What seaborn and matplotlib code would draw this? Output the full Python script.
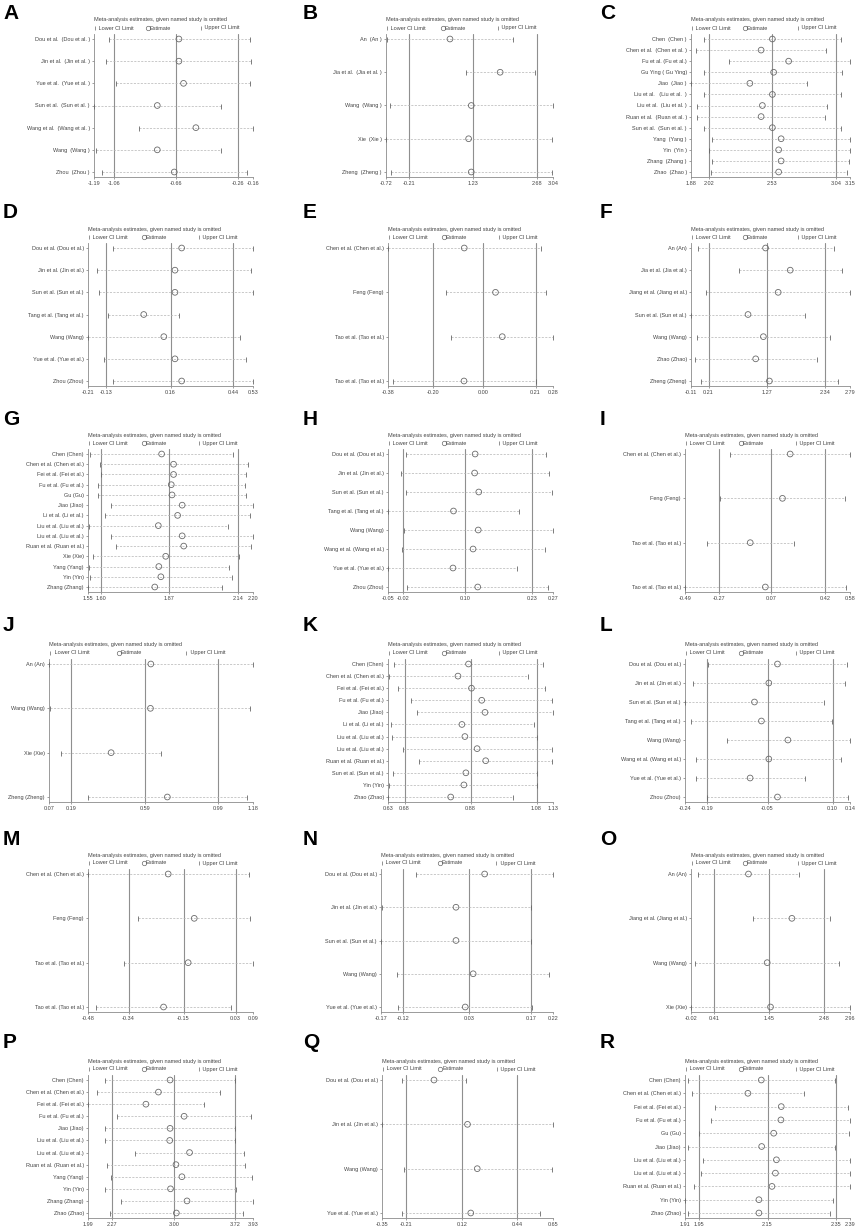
import numpy as np
import pandas as pd
import matplotlib
matplotlib.use("Agg")
import matplotlib.pyplot as plt
import seaborn as sns

# ------------------------------
# Data: one block per panel (leave-one-out estimates)
# ------------------------------
A_studies = ["Dou et al.  (Dou et al. )", "Jin et al.  (Jin et al. )", "Yue et al.  (Yue et al. )",
             "Sun et al.  (Sun et al. )", "Wang et al.  (Wang et al. )", "Wang  (Wang )", "Zhou  (Zhou )"]
A_lower = [-1.09, -1.11, -1.05, -1.19, -0.90, -1.18, -1.14]
A_est = [-0.64, -0.64, -0.61, -0.78, -0.53, -0.78, -0.67]
A_upper = [-0.18, -0.17, -0.18, -0.37, -0.16, -0.37, -0.20]
A_summary = [-1.06, -0.66, -0.26]

B_studies = ["An  (An )", "Jia et al.  (Jia et al. )", "Wang  (Wang )", "Xie  (Xie )", "Zheng  (Zheng )"]
B_lower = [-0.70, 1.08, -0.62, -0.72, -0.60]
B_est = [0.72, 1.85, 1.20, 1.14, 1.20]
B_upper = [2.15, 2.63, 3.04, 3.02, 3.01]
B_summary = [-0.21, 1.23, 2.68]

C_studies = ["Chen  (Chen )", "Chen et al.  (Chen et al. )", "Fu et al. (Fu et al.)", "Gu Ying ( Gu Ying)",
             "Jiao  (Jiao )", "Liu et al.   (Liu et al.  )", "Liu et al.  (Liu et al. )",
             "Ruan et al.  (Ruan et al. )", "Sun et al.  (Sun et al. )", "Yang  (Yang )", "Yin  (Yin )",
             "Zhang  (Zhang )", "Zhao  (Zhao )"]
C_lower = [1.98, 1.92, 2.18, 1.98, 1.88, 1.98, 1.93, 1.93, 1.98, 2.05, 2.02, 2.05, 2.04]
C_est = [2.53, 2.44, 2.66, 2.54, 2.35, 2.53, 2.45, 2.44, 2.53, 2.60, 2.58, 2.60, 2.58]
C_upper = [3.08, 2.96, 3.15, 3.09, 2.81, 3.08, 2.97, 2.95, 3.08, 3.15, 3.15, 3.14, 3.13]
C_summary = [2.02, 2.53, 3.04]

D_studies = ["Dou et al. (Dou et al.)", "Jin et al. (Jin et al.)", "Sun et al. (Sun et al.)",
             "Tang et al. (Tang et al.)", "Wang (Wang)", "Yue et al. (Yue et al.)", "Zhou (Zhou)"]
D_lower = [-0.10, -0.17, -0.16, -0.12, -0.21, -0.14, -0.10]
D_est = [0.21, 0.18, 0.18, 0.04, 0.13, 0.18, 0.21]
D_upper = [0.53, 0.52, 0.53, 0.20, 0.47, 0.50, 0.53]
D_summary = [-0.13, 0.16, 0.44]

E_studies = ["Chen et al. (Chen et al.)", "Feng (Feng)", "Tao et al. (Tao et al.)", "Tao et al. (Tao et al.)"]
E_lower = [-0.38, -0.15, -0.13, -0.36]
E_est = [-0.075, 0.05, 0.077, -0.076]
E_upper = [0.23, 0.25, 0.28, 0.21]
E_summary = [-0.20, 0.00, 0.21]

F_studies = ["An (An)", "Jia et al. (Jia et al.)", "Jiang et al. (Jiang et al.)", "Sun et al. (Sun et al.)",
             "Wang (Wang)", "Zhao (Zhao)", "Zheng (Zheng)"]
F_lower = [0.01, 0.77, 0.16, -0.11, 0.00, -0.04, 0.07]
F_est = [1.25, 1.70, 1.48, 0.93, 1.21, 1.07, 1.32]
F_upper = [2.50, 2.64, 2.79, 1.97, 2.42, 2.19, 2.57]
F_summary = [0.21, 1.27, 2.34]

G_studies = ["Chen (Chen)", "Chen et al. (Chen et al.)", "Fei et al. (Fei et al.)", "Fu et al. (Fu et al.)",
             "Gu (Gu)", "Jiao (Jiao)", "Li et al. (Li et al.)", "Liu et al. (Liu et al.)",
             "Liu et al. (Liu et al.)", "Ruan et al. (Ruan et al.)", "Xie (Xie)", "Yang (Yang)",
             "Yin (Yin)", "Zhang (Zhang)"]
G_lower = [1.559, 1.596, 1.600, 1.588, 1.588, 1.642, 1.616, 1.553, 1.642, 1.660, 1.569, 1.553, 1.556, 1.550]
G_est = [1.840, 1.887, 1.887, 1.878, 1.881, 1.921, 1.903, 1.827, 1.921, 1.927, 1.856, 1.829, 1.837, 1.813]
G_upper = [2.122, 2.179, 2.174, 2.168, 2.174, 2.200, 2.190, 2.102, 2.200, 2.194, 2.145, 2.105, 2.119, 2.077]
G_summary = [1.60, 1.87, 2.14]

H_studies = ["Dou et al. (Dou et al.)", "Jin et al. (Jin et al.)", "Sun et al. (Sun et al.)",
             "Tang et al. (Tang et al.)", "Wang (Wang)", "Wang et al. (Wang et al.)",
             "Yue et al. (Yue et al.)", "Zhou (Zhou)"]
H_lower = [-0.016, -0.025, -0.016, -0.050, -0.019, -0.023, -0.050, -0.014]
H_est = [0.119, 0.118, 0.126, 0.077, 0.125, 0.115, 0.076, 0.124]
H_upper = [0.256, 0.263, 0.268, 0.205, 0.270, 0.254, 0.201, 0.260]
H_summary = [-0.02, 0.10, 0.23]

I_studies = ["Chen et al. (Chen et al.)", "Feng (Feng)", "Tao et al. (Tao et al.)", "Tao et al. (Tao et al.)"]
I_lower = [-0.195, -0.262, -0.349, -0.490]
I_est = [0.192, 0.142, -0.067, 0.031]
I_upper = [0.580, 0.545, 0.215, 0.552]
I_summary = [-0.27, 0.07, 0.42]

J_studies = ["An (An)", "Wang (Wang)", "Xie (Xie)", "Zheng (Zheng)"]
J_lower = [0.070, 0.075, 0.134, 0.282]
J_est = [0.624, 0.622, 0.408, 0.714]
J_upper = [1.180, 1.166, 0.682, 1.150]
J_summary = [0.19, 0.59, 0.99]

K_studies = ["Chen (Chen)", "Chen et al. (Chen et al.)", "Fei et al. (Fei et al.)", "Fu et al. (Fu et al.)",
             "Jiao (Jiao)", "Li et al. (Li et al.)", "Liu et al. (Liu et al.)", "Liu et al. (Liu et al.)",
             "Ruan et al. (Ruan et al.)", "Sun et al. (Sun et al.)", "Yin (Yin)", "Zhao (Zhao)"]
K_lower = [0.649, 0.632, 0.661, 0.701, 0.717, 0.639, 0.641, 0.674, 0.723, 0.644, 0.634, 0.630]
K_est = [0.874, 0.842, 0.883, 0.914, 0.924, 0.854, 0.863, 0.900, 0.926, 0.866, 0.860, 0.820]
K_upper = [1.099, 1.053, 1.106, 1.128, 1.130, 1.072, 1.083, 1.127, 1.128, 1.083, 1.083, 1.010]
K_summary = [0.68, 0.88, 1.08]

L_studies = ["Dou et al. (Dou et al.)", "Jin et al. (Jin et al.)", "Sun et al. (Sun et al.)",
             "Tang et al. (Tang et al.)", "Wang (Wang)", "Wang et al. (Wang et al.)",
             "Yue et al. (Yue et al.)", "Zhou (Zhou)"]
L_lower = [-0.186, -0.221, -0.240, -0.227, -0.144, -0.215, -0.215, -0.190]
L_est = [-0.027, -0.047, -0.080, -0.064, -0.003, -0.047, -0.090, -0.027]
L_upper = [0.132, 0.128, 0.081, 0.098, 0.140, 0.120, 0.036, 0.136]
L_summary = [-0.19, -0.05, 0.10]

M_studies = ["Chen et al. (Chen et al.)", "Feng (Feng)", "Tao et al. (Tao et al.)", "Tao et al. (Tao et al.)"]
M_lower = [-0.480, -0.309, -0.357, -0.452]
M_est = [-0.203, -0.113, -0.134, -0.219]
M_upper = [0.077, 0.081, 0.090, 0.014]
M_summary = [-0.34, -0.15, 0.03]

N_studies = ["Dou et al. (Dou et al.)", "Jin et al. (Jin et al.)", "Sun et al. (Sun et al.)",
             "Wang (Wang)", "Yue et al. (Yue et al.)"]
N_lower = [-0.091, -0.168, -0.170, -0.133, -0.131]
N_est = [0.065, 0.000, 0.000, 0.039, 0.021]
N_upper = [0.220, 0.169, 0.171, 0.212, 0.173]
N_summary = [-0.12, 0.03, 0.17]

O_studies = ["An (An)", "Jiang et al. (Jiang et al.)", "Wang (Wang)", "Xie (Xie)"]
O_lower = [0.111, 1.151, 0.061, -0.020]
O_est = [1.057, 1.871, 1.408, 1.470]
O_upper = [2.009, 2.591, 2.754, 2.960]
O_summary = [0.41, 1.45, 2.48]

P_studies = ["Chen (Chen)", "Chen et al. (Chen et al.)", "Fei et al. (Fei et al.)", "Fu et al. (Fu et al.)",
             "Jiao (Jiao)", "Liu et al. (Liu et al.)", "Liu et al. (Liu et al.)", "Ruan et al. (Ruan et al.)",
             "Yang (Yang)", "Yin (Yin)", "Zhang (Zhang)", "Zhao (Zhao)"]
P_lower = [2.193, 2.100, 1.990, 2.326, 2.193, 2.193, 2.546, 2.210, 2.266, 2.193, 2.378, 2.249]
P_est = [2.955, 2.818, 2.671, 3.120, 2.955, 2.951, 3.184, 3.024, 3.094, 2.960, 3.154, 3.029]
P_upper = [3.714, 3.537, 3.352, 3.912, 3.718, 3.714, 3.826, 3.839, 3.921, 3.727, 3.930, 3.813]
P_summary = [2.27, 3.00, 3.72]

Q_studies = ["Dou et al. (Dou et al.)", "Jin et al. (Jin et al.)", "Wang (Wang)", "Yue et al. (Yue et al.)"]
Q_lower = [-0.233, -0.350, -0.222, -0.233]
Q_est = [-0.046, 0.150, 0.207, 0.169]
Q_upper = [0.139, 0.650, 0.644, 0.576]
Q_summary = [-0.21, 0.12, 0.44]

R_studies = ["Chen (Chen)", "Chen et al. (Chen et al.)", "Fei et al. (Fei et al.)", "Fu et al. (Fu et al.)",
             "Gu (Gu)", "Jiao (Jiao)", "Liu et al. (Liu et al.)", "Liu et al. (Liu et al.)",
             "Ruan et al. (Ruan et al.)", "Yin (Yin)", "Zhao (Zhao)"]
R_lower = [1.920, 1.930, 1.996, 1.986, 1.950, 1.919, 1.963, 1.956, 1.936, 1.910, 1.918]
R_est = [2.132, 2.093, 2.190, 2.189, 2.168, 2.133, 2.176, 2.173, 2.163, 2.125, 2.125]
R_upper = [2.345, 2.255, 2.384, 2.390, 2.386, 2.347, 2.390, 2.390, 2.390, 2.340, 2.333]
R_summary = [1.95, 2.15, 2.35]

panels = [
    ("A", A_studies, A_lower, A_est, A_upper, A_summary),
    ("B", B_studies, B_lower, B_est, B_upper, B_summary),
    ("C", C_studies, C_lower, C_est, C_upper, C_summary),
    ("D", D_studies, D_lower, D_est, D_upper, D_summary),
    ("E", E_studies, E_lower, E_est, E_upper, E_summary),
    ("F", F_studies, F_lower, F_est, F_upper, F_summary),
    ("G", G_studies, G_lower, G_est, G_upper, G_summary),
    ("H", H_studies, H_lower, H_est, H_upper, H_summary),
    ("I", I_studies, I_lower, I_est, I_upper, I_summary),
    ("J", J_studies, J_lower, J_est, J_upper, J_summary),
    ("K", K_studies, K_lower, K_est, K_upper, K_summary),
    ("L", L_studies, L_lower, L_est, L_upper, L_summary),
    ("M", M_studies, M_lower, M_est, M_upper, M_summary),
    ("N", N_studies, N_lower, N_est, N_upper, N_summary),
    ("O", O_studies, O_lower, O_est, O_upper, O_summary),
    ("P", P_studies, P_lower, P_est, P_upper, P_summary),
    ("Q", Q_studies, Q_lower, Q_est, Q_upper, Q_summary),
    ("R", R_studies, R_lower, R_est, R_upper, R_summary),
]

# ------------------------------
# Layout (pixels)
# ------------------------------
W, H = 858, 1230
ROW_FIRST = [39, 248, 454, 664, 874, 1080]      # y of first study row
LETTER_BASE = [19, 218, 425, 631, 845, 1048]    # baseline of panel letters
LETTER_X = [3, 303, 600]
COL_RIGHT = [253, 553, 850]
AX_LEFT = {"A": 94, "B": 386, "C": 691, "D": 88, "E": 388, "F": 691,
           "G": 88, "H": 388, "I": 685, "J": 49, "K": 388, "L": 685,
           "M": 88, "N": 381, "O": 691, "P": 88, "Q": 382, "R": 685}

TXT = "#444444"
FS = 3.95

sns.set_style("white")
plt.rcParams['font.family'] = ['Liberation Sans', 'DejaVu Sans']
plt.rcParams['axes.unicode_minus'] = False

fig = plt.figure(figsize=(W / 100, H / 100), dpi=100)

for i, (letter, studies, lower, est, upper, summary) in enumerate(panels):
    row, col = divmod(i, 3)
    n = len(studies)
    top = ROW_FIRST[row] - 5
    bottom = ROW_FIRST[row] + 138
    left = AX_LEFT[letter]
    right = COL_RIGHT[col]
    ax = fig.add_axes([left / W, 1 - bottom / H, (right - left) / W, (bottom - top) / H])

    df = pd.DataFrame({"study": studies, "lower": lower, "est": est, "upper": upper, "pos": np.arange(n)})
    xmin, xmax = df["lower"].min(), df["upper"].max()

    for v in summary:
        ax.axvline(v, color="#8f8f8f", lw=0.8, zorder=1)
    ax.hlines(df["pos"], df["lower"], df["upper"], colors="#b3b3b3", lw=0.5,
              linestyles=(0, (3, 2)), zorder=2)
    ax.plot(df["lower"], df["pos"], ls="none", marker="|", ms=3.6, mew=0.6, color="#666666",
            clip_on=False, zorder=3)
    ax.plot(df["upper"], df["pos"], ls="none", marker="|", ms=3.6, mew=0.6, color="#666666",
            clip_on=False, zorder=3)
    sns.scatterplot(data=df, x="est", y="pos", marker="o", s=17, facecolor="none",
                    edgecolor="#6a6a6a", linewidth=0.6, ax=ax, zorder=4, clip_on=False)

    pad = 0.0376 * (n - 1)
    ax.set_xlim(xmin, xmax)
    ax.set_ylim(n - 1 + pad, -pad)
    ticks = [xmin] + list(summary) + [xmax]
    ax.set_xticks(ticks)
    ax.set_xticklabels(["%.2f" % t for t in ticks])
    ax.set_yticks(df["pos"])
    ax.set_yticklabels(df["study"])
    ax.set_xlabel("")
    ax.set_ylabel("")
    ax.tick_params(axis="both", labelsize=FS, labelcolor=TXT, length=1.5, width=0.5,
                   color="#777777", pad=1.5, direction="out")
    ax.tick_params(axis="x", bottom=True)
    ax.tick_params(axis="y", left=True)
    for side in ["top", "right"]:
        ax.spines[side].set_visible(False)
    for side in ["left", "bottom"]:
        ax.spines[side].set_color("#8a8a8a")
        ax.spines[side].set_linewidth(0.6)

    # header: title and legend above the plot area
    hpx = bottom - top
    ax.text(0, 1 + 14 / hpx, "Meta-analysis estimates, given named study is omitted",
            transform=ax.transAxes, fontsize=FS, color=TXT, ha="left", va="center")
    ly = 1 + 6 / hpx
    for fx, mk, lab in [(0.0, "|", " Lower CI Limit"), (1 / 3, "o", "Estimate"),
                        (2 / 3, "|", " Upper CI Limit")]:
        if mk == "o":
            ax.plot([fx + 0.008], [ly], transform=ax.transAxes, marker="o", ms=3.2, mfc="none",
                    mec="#6a6a6a", mew=0.5, ls="none", clip_on=False)
        else:
            ax.plot([fx + 0.004], [ly], transform=ax.transAxes, marker="|", ms=3.0, mew=0.5,
                    color="#666666", ls="none", clip_on=False)
        ax.text(fx + 0.018, ly, lab, transform=ax.transAxes, fontsize=FS, color=TXT,
                ha="left", va="center")

    fig.text(LETTER_X[col] / W, 1 - LETTER_BASE[row] / H, letter, fontsize=15,
             fontweight="bold", color="black", ha="left", va="baseline")

fig.savefig("out.png", dpi=100, facecolor="white")
